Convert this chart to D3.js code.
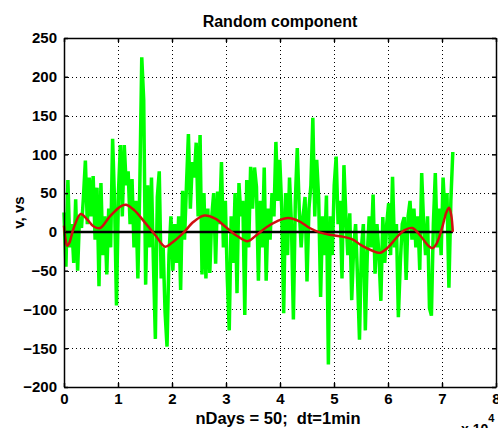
<!DOCTYPE html>
<html><head><meta charset="utf-8">
<script src="https://d3js.org/d3.v7.min.js"></script>
<style>
body{margin:0;background:#fff}
svg{display:block}
text{font-family:"Liberation Sans",Arial,Helvetica,sans-serif;font-weight:bold;fill:#000}
</style>
</head><body>
<svg id="chart" width="498" height="428"></svg>
<script>
// ---------- data ----------
const title = "Random component";
const xLabel = "nDays = 50;  dt=1min";
const yLabel = "v, vs";
const xExponent = "4";
const sampleStep = 360; // minutes between samples of the random component
const xTickValues = [0, 1, 2, 3, 4, 5, 6, 7, 8]; // in units of 10^4 minutes
const yTickValues = [-200, -150, -100, -50, 0, 50, 100, 150, 200, 250];

const randomComponent = [
  25, -45, 67, -20, 10, -40, 42, -50, 20, 5,
  45, 92, 10, 70, 20, 72, -10, 57, -70, 63,
  -30, 20, -55, 30, -20, 120, 40, -95, 50, 112,
  20, 112, 60, 78, 10, 68, -20, 40, -60, 60,
  225, 170, -68, 60, -20, 70, -40, -138, 45, 78,
  -60, -20, -104, -148, -30, 20, -50, 10, -40, 20,
  -75, 53, -10, 60, 126, 30, 90, 70, 115, 20,
  125, -55, 50, -60, 30, -53, 20, 50, -41, 52,
  10, 90, -20, 40, -60, -127, 20, -40, 50, -79,
  63, 20, 40, -107, 67, -20, 84, 30, 83, 58,
  -63, 40, -20, 83, -63, 30, -10, 50, 20, 116,
  40, 93, 30, -105, 50, -30, 70, 10, -113, 40,
  108, 30, -20, 20, 45, -64, 30, 60, 147, 20,
  93, 43, -84, 20, -30, 47, -171, 20, -30, 60,
  97, 10, 40, -60, 86, 20, -30, 24, -88, -20,
  10, -60, -139, -20, 10, -127, -30, 20, -20, 48,
  -54, 10, -30, -89, 19, -40, 10, 37, -30, 71,
  -20, 10, -110, -40, 10, 19, -62, 20, 40, -10,
  30, -20, 20, -49, 76, 10, -30, 20, -98, -108,
  10, 76, -20, 30, -30, 70, 20, 50, -72, 40,
  103
];

const smoothMinutes = [
  0, 300, 600, 1000, 1800, 3100, 4300, 5500, 6700, 8500,
  10500, 11500, 13000, 15000, 17000, 18700, 20000, 22000, 24000, 26000,
  28000, 30000, 32000, 34000, 35500, 37500, 39500, 41500, 43500, 45500,
  47500, 49500, 51500, 53500, 55000, 57000, 58500, 60000, 61500, 63000,
  64500, 66000, 67500, 68200, 69000, 70000, 70800, 71300, 71700, 72000
];
const smoothValues = [
  8, -10, -18, -14, 5, 23, 16, 7, 5, 20,
  33, 35, 28, 12, -5, -19, -14, -2, 13, 21,
  17, 6, -5, -12, -5, 6, 14, 18, 14, 5,
  -1, -4, -6, -10, -17, -24, -27, -20, -8, 2,
  5, -5, -18, -21, -15, 5, 25, 31, 22, 0
];
const zeroLineMinutes = [0, 72000];
const zeroLineValues = [0, 0];

// ---------- drawing ----------
const W = 498, H = 428;
const m = {left: 64, right: 2, top: 38, bottom: 41};
const svg = d3.select("#chart");

const x = d3.scaleLinear().domain([0, 80000]).range([m.left, W - m.right]);
const y = d3.scaleLinear().domain([-200, 250]).range([H - m.bottom, m.top]);

const gridG = svg.append("g");
gridG.selectAll("line.vg").data(xTickValues.slice(1, -1)).enter().append("line")
  .attr("x1", d => Math.round(x(d * 1e4)) + 0.5).attr("x2", d => Math.round(x(d * 1e4)) + 0.5)
  .attr("y1", y(250)).attr("y2", y(-200))
  .attr("stroke", "#000").attr("stroke-width", 1).attr("stroke-dasharray", "1,3");
gridG.selectAll("line.hg").data(yTickValues.slice(1, -1)).enter().append("line")
  .attr("y1", d => Math.round(y(d)) + 0.5).attr("y2", d => Math.round(y(d)) + 0.5)
  .attr("x1", x(0)).attr("x2", x(80000))
  .attr("stroke", "#000").attr("stroke-width", 1).attr("stroke-dasharray", "1,3");

const line = d3.line().x(d => x(d[0])).y(d => y(d[1]));

svg.append("path")
  .datum(randomComponent.map((v, i) => [i * sampleStep, v]))
  .attr("d", line)
  .attr("fill", "none").attr("stroke", "#00ff00").attr("stroke-width", 3.5).attr("stroke-linejoin", "miter");

svg.append("path")
  .datum(zeroLineMinutes.map((t, i) => [t, zeroLineValues[i]]))
  .attr("d", line)
  .attr("fill", "none").attr("stroke", "#000").attr("stroke-width", 2.5);

svg.append("path")
  .datum(smoothMinutes.map((t, i) => [t, smoothValues[i]]))
  .attr("d", d3.line().x(d => x(d[0])).y(d => y(d[1])).curve(d3.curveCatmullRom.alpha(0.5)))
  .attr("fill", "none").attr("stroke", "#d01010").attr("stroke-width", 2.5);

const tickLen = 4;
const xAxisB = d3.axisBottom(x).tickValues(xTickValues.map(d => d * 1e4))
  .tickFormat(d => d / 1e4).tickSizeInner(-tickLen).tickSizeOuter(0).tickPadding(6);
const xAxisT = d3.axisTop(x).tickValues(xTickValues.map(d => d * 1e4))
  .tickFormat("").tickSizeInner(-tickLen).tickSizeOuter(0);
const yAxisL = d3.axisLeft(y).tickValues(yTickValues)
  .tickSizeInner(-tickLen).tickSizeOuter(0).tickPadding(7);
const yAxisR = d3.axisRight(y).tickValues(yTickValues)
  .tickFormat("").tickSizeInner(-tickLen).tickSizeOuter(0);

function style(g) {
  g.select(".domain").attr("stroke", "#000").attr("stroke-width", 1.5);
  g.selectAll(".tick line").attr("stroke", "#000").attr("stroke-width", 1.5);
  g.selectAll(".tick text").attr("font-size", 15).attr("font-weight", "bold").attr("fill", "#000");
  g.attr("font-family", null).attr("font-size", null);
}
svg.append("g").attr("transform", `translate(0,${H - m.bottom})`).call(xAxisB).call(style);
svg.append("g").attr("transform", `translate(0,${m.top})`).call(xAxisT).call(style);
svg.append("g").attr("transform", `translate(${m.left},0)`).call(yAxisL).call(style);
svg.append("g").attr("transform", `translate(${W - m.right},0)`).call(yAxisR).call(style);

svg.append("text").attr("x", (m.left + W - m.right) / 2).attr("y", 27)
  .attr("text-anchor", "middle").attr("font-size", 16).text(title);
svg.append("text").attr("x", (m.left + W - m.right) / 2 - 2).attr("y", 424)
  .attr("text-anchor", "middle").attr("font-size", 16.5)
  .style("white-space", "pre").text(xLabel);
svg.append("text").attr("transform", `translate(24,${(m.top + H - m.bottom) / 2}) rotate(-90)`)
  .attr("text-anchor", "middle").attr("font-size", 15).text(yLabel);
const ex = svg.append("text").attr("x", 461).attr("y", 434).attr("font-size", 14).attr("font-weight", "normal");
ex.append("tspan").text("x 10");
ex.append("tspan").attr("dy", -12).attr("font-size", 11).text(xExponent);
</script>
</body></html>
